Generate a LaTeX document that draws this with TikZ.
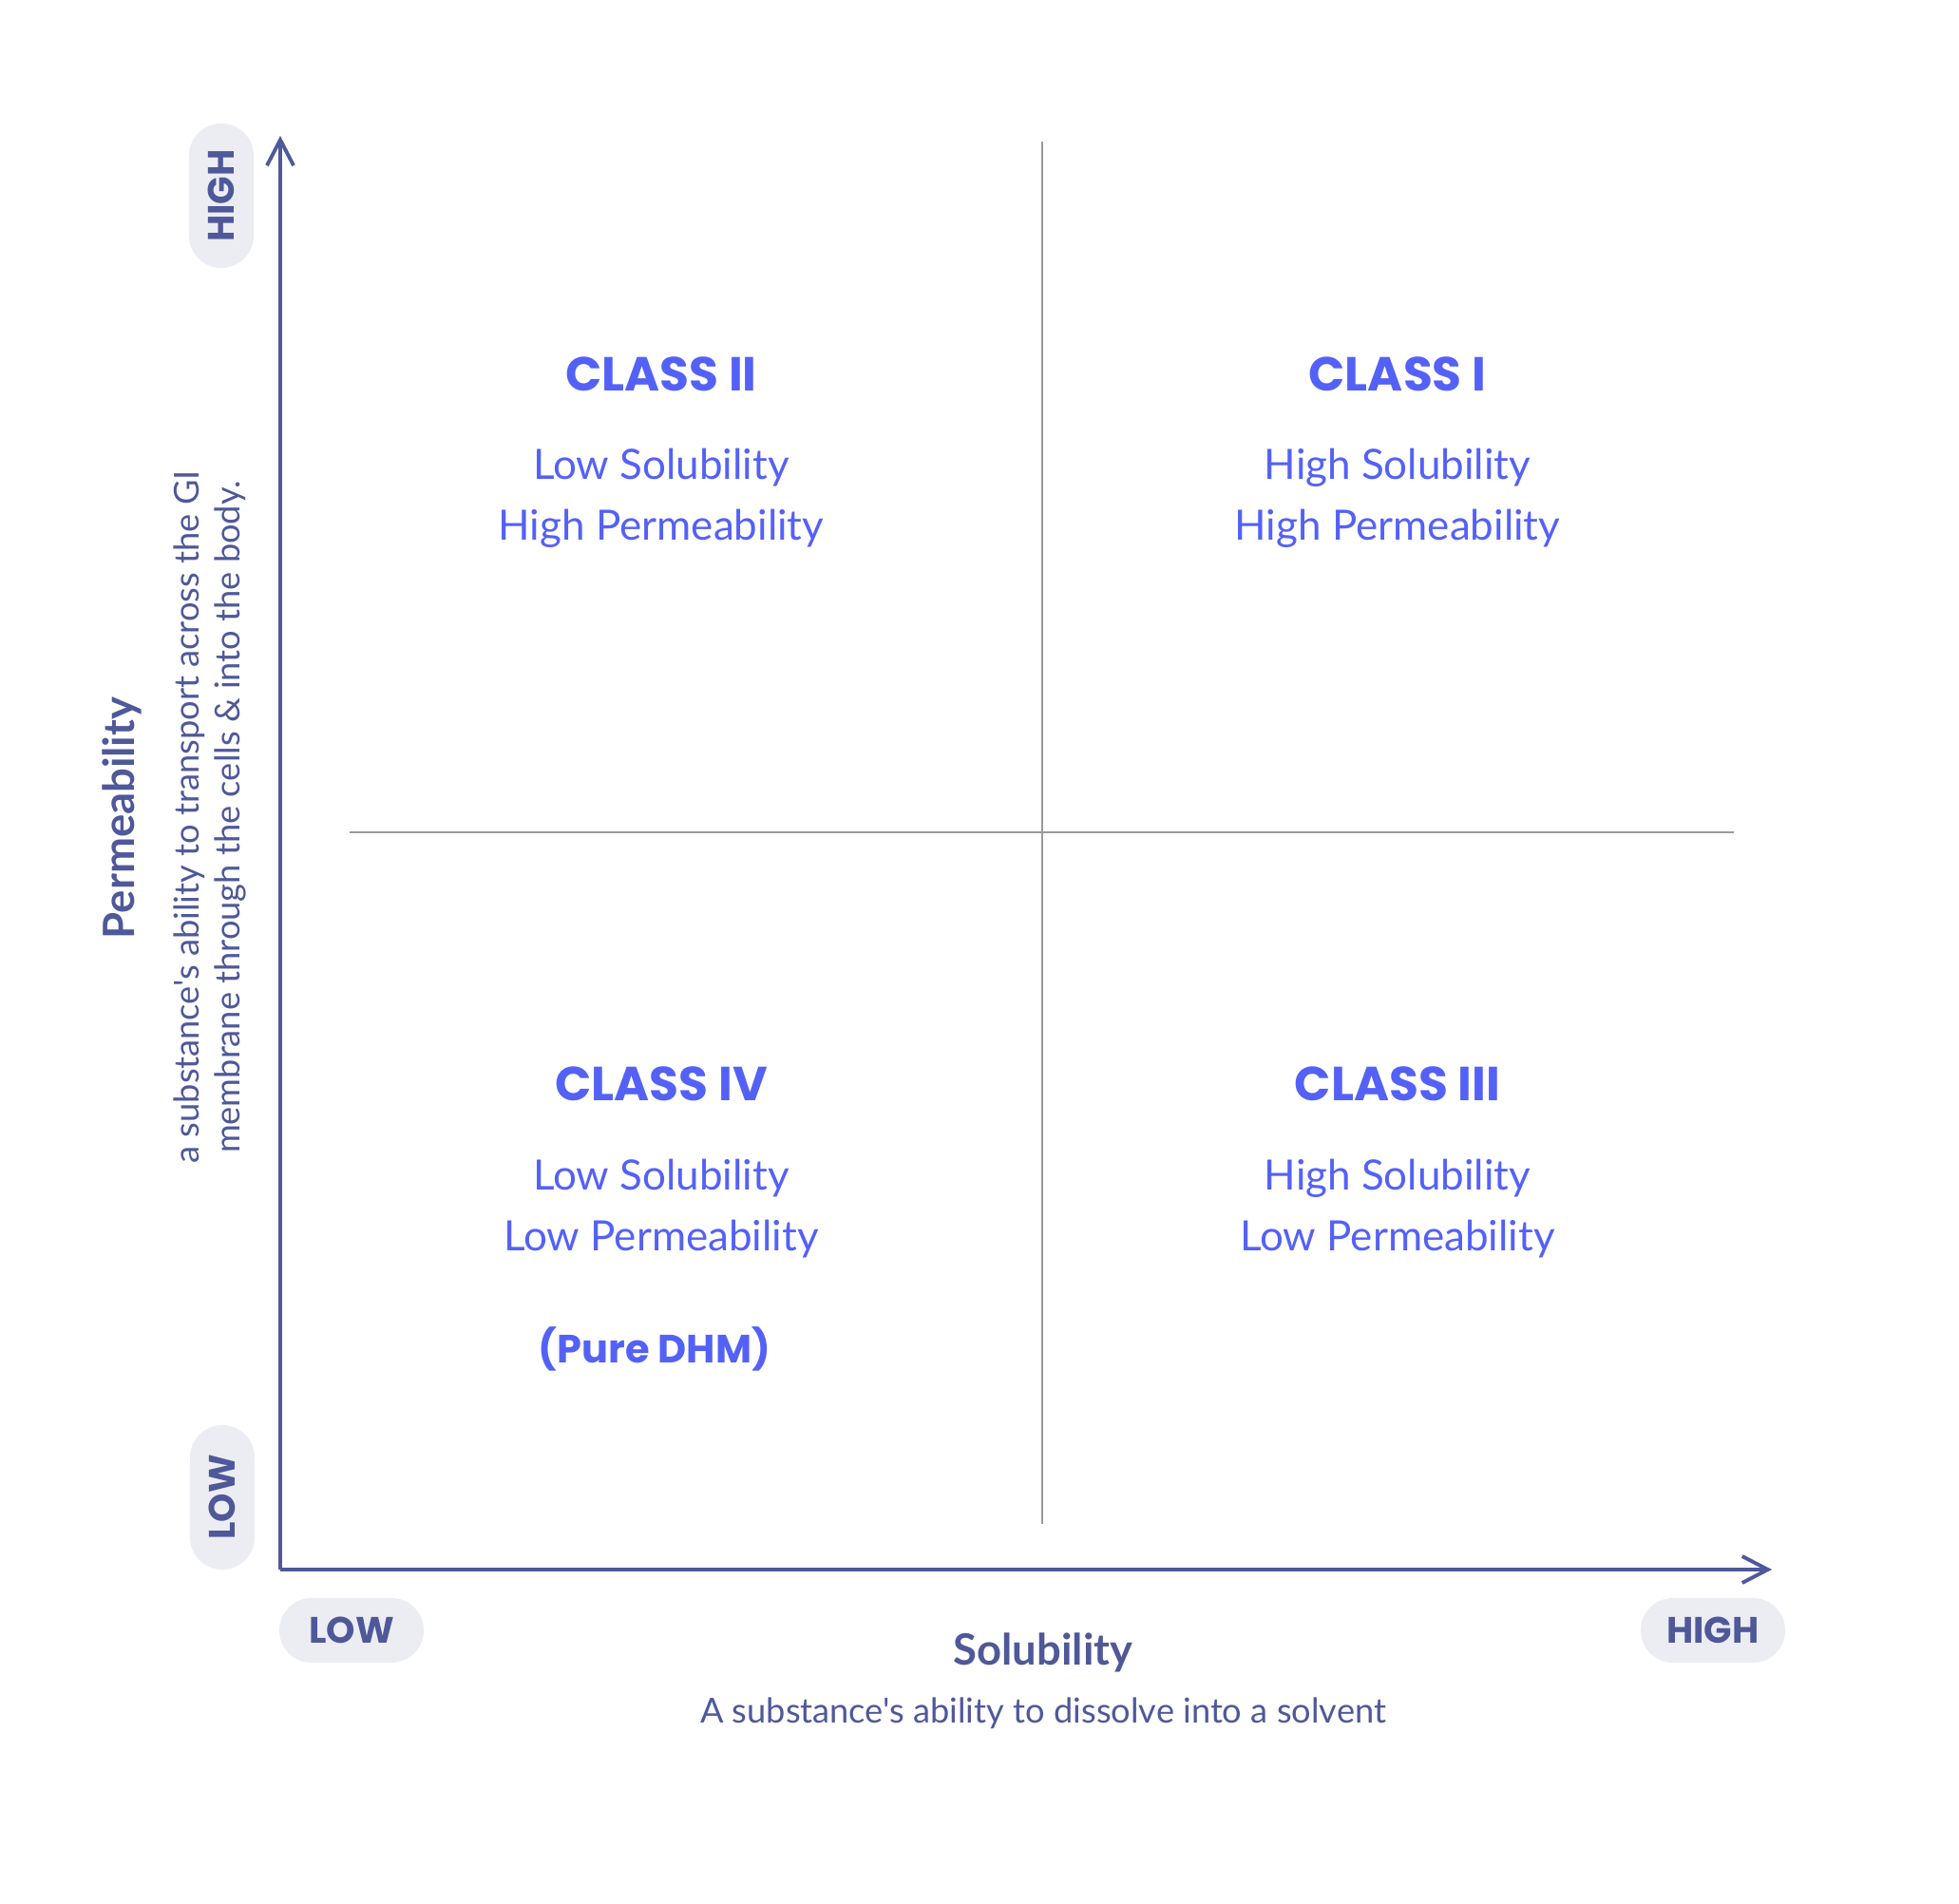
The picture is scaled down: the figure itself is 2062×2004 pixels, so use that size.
\documentclass[tikz,border=0pt]{standalone}
\usepackage{fontspec}
\setmainfont{Lato}[Ligatures=TeXOff]
\newfontfamily\headfont{Poppins}
\usetikzlibrary{arrows.meta}
\definecolor{classblue}{HTML}{5461F7}
\definecolor{axisblue}{HTML}{4F5899}
\definecolor{pillgray}{HTML}{ECEDF3}
\definecolor{divgray}{HTML}{9A9A9A}

\begin{document}
\begin{tikzpicture}[
                x=0.01cm, y=-0.01cm,
                classtitle/.style={font=\headfont\bfseries\fontsize{14.3}{17}\selectfont, text=classblue},
                classtext/.style={font=\fontsize{12.5}{18.2}\selectfont, text=classblue, align=center},
                pill/.style={fill=pillgray, rounded corners=0.34cm, minimum width=1.52cm, minimum height=0.68cm, inner sep=0pt, font=\headfont\bfseries\fontsize{11}{13}\selectfont, text=axisblue},
                axis/.style={draw=axisblue, line width=1.1pt, -{Straight Barb[length=2.7mm,width=2.8mm]}},
                divider/.style={draw=divgray, line width=0.6pt},
                axislabel/.style={font=\bfseries\fontsize{12.9}{15}\selectfont, text=axisblue},
                axisnote/.style={font=\fontsize{10.3}{12}\selectfont, text=axisblue, align=center}
            ]

            % Cadre de la page
            \fill[white] (0,0) rectangle (2062,2004);
            \useasboundingbox (0,0) rectangle (2062,2004);

            % Points des axes et des séparateurs
            \coordinate (origin) at (295,1652);
            \coordinate (ytop) at (295,143);
            \coordinate (xend) at (1865,1652);
            \coordinate (vtop) at (1097,149);
            \coordinate (vbot) at (1097,1604);
            \coordinate (hleft) at (368,876);
            \coordinate (hright) at (1825,876);

            % Séparateurs des quadrants
            \draw[divider] (vtop) -- (vbot);
            \draw[divider] (hleft) -- (hright);

            % Axes
            \draw[axis] (origin) -- (ytop);
            \draw[axis] (origin) -- (xend);

            % Étiquettes des bornes
            \node[pill, rotate=90] (yhigh) at (233,206) {HIGH};
            \node[pill, rotate=90] (ylow) at (234,1576) {LOW};
            \node[pill] (xlow) at (370,1716) {LOW};
            \node[pill] (xhigh) at (1803,1716) {HIGH};

            % Titres des axes
            \node[axislabel, rotate=90] (permlabel) at (128,861) {Permeability};
            \node[axisnote, rotate=90] (permnote) at (221,860) {a substance's ability to transport across the GI\\membrane through the cells \& into the body.};
            \node[axislabel] (sollabel) at (1098,1739) {Solubility};
            \node[axisnote] (solnote) at (1098,1803) {A substance's ability to dissolve into a solvent};

            % Quadrants
            \node[classtitle] (class2) at (696,394) {CLASS II};
            \node[classtext] (class2txt) at (696,524) {Low Solubility\\High Permeability};
            \node[classtitle] (class1) at (1471,394) {CLASS I};
            \node[classtext] (class1txt) at (1471,524) {High Solubility\\High Permeability};
            \node[classtitle] (class4) at (696,1141) {CLASS IV};
            \node[classtext] (class4txt) at (696,1272) {Low Solubility\\Low Permeability};
            \node[classtitle, font=\headfont\bfseries\fontsize{11.8}{14}\selectfont] (puredhm) at (689,1420) {(Pure DHM)};
            \node[classtitle] (class3) at (1471,1141) {CLASS III};
            \node[classtext] (class3txt) at (1471,1272) {High Solubility\\Low Permeability};
        \end{tikzpicture}
\end{document}
